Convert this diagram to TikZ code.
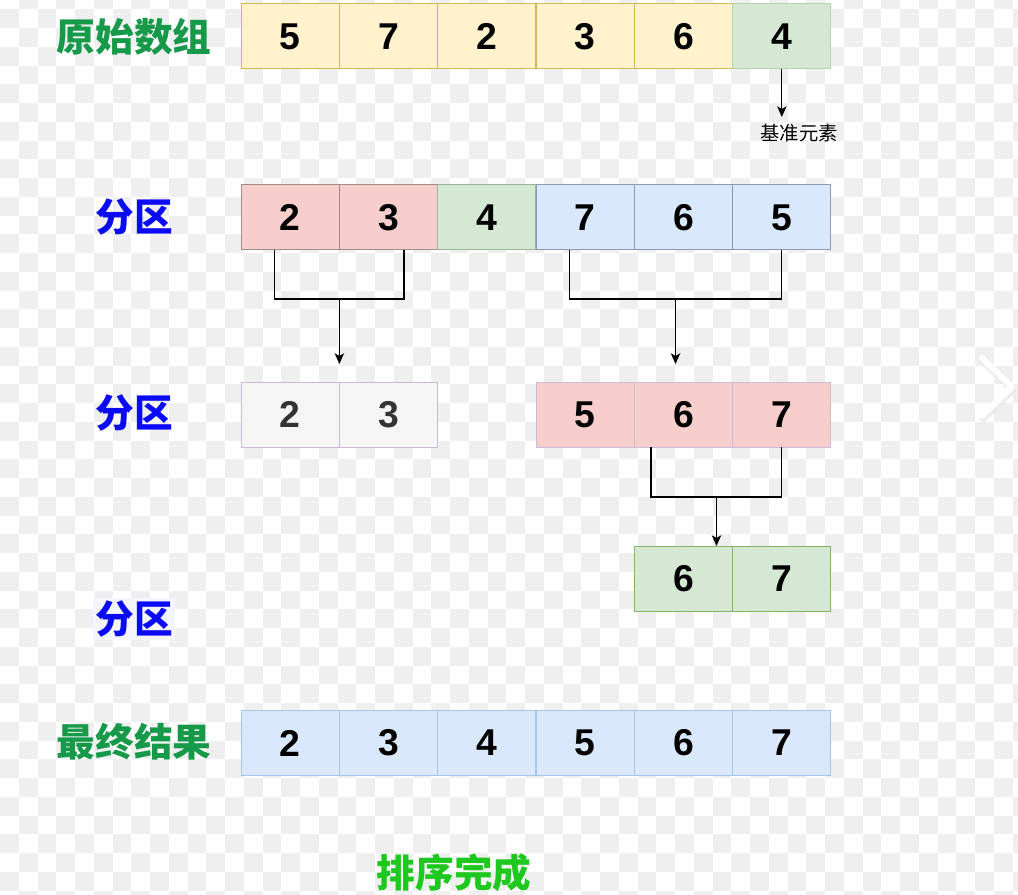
\documentclass[tikz,border=0pt]{standalone}
\usepackage{fontspec}
\setmainfont{Liberation Sans}
\newfontfamily\cjk{Noto Sans CJK SC}
\usetikzlibrary{arrows.meta,calc}
\definecolor{chk}{HTML}{EFEFEF}
\definecolor{yelF}{HTML}{FFF2CC}\definecolor{yelD}{HTML}{D6B656}
\definecolor{grnF}{HTML}{D5E8D4}\definecolor{grnD}{HTML}{82B366}
\definecolor{grnL}{HTML}{B9D3AE}\definecolor{grnG}{HTML}{9FB59A}
\definecolor{redF}{HTML}{F8CECC}\definecolor{redD}{HTML}{A38B8B}
\definecolor{bluF}{HTML}{DAE8FC}\definecolor{bluD}{HTML}{8C9BB0}
\definecolor{bluL}{HTML}{A9C4EB}
\definecolor{gryF}{HTML}{F5F5F5}\definecolor{purD}{HTML}{CDB8DC}
\definecolor{purR}{HTML}{C8BCD8}
\definecolor{txtG}{HTML}{333333}
\definecolor{lblGreen}{HTML}{17994A}
\definecolor{lblBlue}{HTML}{0A0AF5}
\definecolor{lblLime}{HTML}{1EC81E}
\begin{document}
\begin{tikzpicture}[x=0.75pt,y=-0.75pt,
  cell/.style={draw, line width=0.75pt, minimum width=73.75pt, minimum height=48.75pt,
    inner sep=0pt, outer sep=0pt, font=\fontsize{28}{30}\selectfont\bfseries},
  yel/.style={fill=yelF, draw=yelD},
  grA/.style={fill=grnF, draw=grnL},
  grB/.style={fill=grnF, draw=grnG},
  grC/.style={fill=grnF, draw=grnD},
  rdA/.style={fill=redF, draw=redD},
  rdB/.style={fill=redF, draw=purR},
  blA/.style={fill=bluF, draw=bluD},
  blB/.style={fill=bluF, draw=bluL},
  gyA/.style={fill=gryF, draw=purD, text=txtG},
  biglbl/.style={font=\cjk\bfseries\fontsize{29}{31}\selectfont, inner sep=1pt},
  conn/.style={line width=1pt, draw=black},
  arr/.style={conn, -{Stealth[length=8pt,width=7pt,inset=2pt]}}
]
\useasboundingbox (0,0) rectangle (1018,895);
\fill[white] (0,0) rectangle (1018,895);
% checker background
\foreach \i in {0,2,...,54}{\foreach \j in {0,2,...,46}{
  \fill[chk] ({\i*18.75},{9.3+\j*18.75}) rectangle ++(18.75,18.75);}}
\foreach \i in {1,3,...,53}{\foreach \j in {-1,1,...,47}{
  \fill[chk] ({\i*18.75},{9.3+\j*18.75}) rectangle ++(18.75,18.75);}}
% chevron
\draw[line width=6pt, draw=black!8, line cap=round, line join=round] (983,360) -- (1013,389) -- (983,418);
\draw[line width=4.5pt, draw=white, line cap=round, line join=round] (982,358) -- (1012,387) -- (982,416);

% row 1
\node[cell,yel] (a1) at (290.2,36.5) {5};
\node[cell,yel] (a2) at (388.5,36.5) {7};
\node[cell,yel] (a3) at (486.8,36.5) {2};
\node[cell,yel] (a4) at (585.2,36.5) {3};
\node[cell,yel] (a5) at (683.5,36.5) {6};
\node[cell,grA] (a6) at (781.8,36.5) {4};
% row 2
\node[cell,rdA] (b1) at (290.2,217.5) {2};
\node[cell,rdA] (b2) at (388.5,217.5) {3};
\node[cell,grB] (b3) at (486.8,217.5) {4};
\node[cell,blA] (b4) at (585.2,217.5) {7};
\node[cell,blA] (b5) at (683.5,217.5) {6};
\node[cell,blA] (b6) at (781.8,217.5) {5};
% row 3
\node[cell,gyA] (c1) at (290.2,414.5) {2};
\node[cell,gyA] (c2) at (388.5,414.5) {3};
\node[cell,rdB] (d1) at (585.2,414.5) {5};
\node[cell,rdB] (d2) at (683.5,414.5) {6};
\node[cell,rdB] (d3) at (781.8,414.5) {7};
% row 4
\node[cell,grC] (e1) at (683.5,578.5) {6};
\node[cell,grC] (e2) at (781.8,578.5) {7};
% row 5
\node[cell,blB] (f1) at (290.2,743) {2};
\node[cell,blB] (f2) at (388.5,743) {3};
\node[cell,blB] (f3) at (486.8,743) {4};
\node[cell,blB] (f4) at (585.2,743) {5};
\node[cell,blB] (f5) at (683.5,743) {6};
\node[cell,blB] (f6) at (781.8,743) {7};

% labels
\node[biglbl, text=lblGreen] (l1) at (134,37) {原始数组};
\node[biglbl, text=lblBlue] (l2) at (134,217) {分区};
\node[biglbl, text=lblBlue] (l3) at (134,413) {分区};
\node[biglbl, text=lblBlue, fill=white!96!blue, inner sep=2pt] (l4) at (134,619) {分区};
\node[biglbl, text=lblGreen] (l5) at (134,742) {最终结果};
\node[biglbl, text=lblLime] (l6) at (454,873) {排序完成};
\node[font=\cjk\fontsize{14.5}{16}\selectfont, inner sep=0pt] (pv) at (799,133) {基准元素};

% pivot arrow
\coordinate (pvend) at ($(a6.south)+(0,48)$);
\draw[arr] (a6.south) -- (pvend);

% bracket row2 left
\draw[conn] ($(b1.south)+(-16,0)$) -- ($(b1.south)+(-16,49)$) -- ($(b2.south)+(15.5,49)$) -- ($(b2.south)+(15.5,0)$);
\draw[arr] ($(b1.south east)+(0,49)$) -- ($(c1.north east)+(0,-18)$);
% bracket row2 right
\draw[conn] ($(b4.south)+(-16,0)$) -- ($(b4.south)+(-16,49)$) -- ($(b6.south)+(0,49)$) -- (b6.south);
\draw[arr] ($(b5.south)+(-8,49)$) -- ($(d2.north)+(-8,-18)$);
% bracket row3
\draw[conn] ($(d2.south)+(-32.5,0)$) -- ($(d2.south)+(-32.5,50)$) -- ($(d3.south)+(0,50)$) -- (d3.south);
\draw[arr] ($(d2.south)+(33,50)$) -- ($(e1.north)+(33,0)$);
\end{tikzpicture}
\end{document}
